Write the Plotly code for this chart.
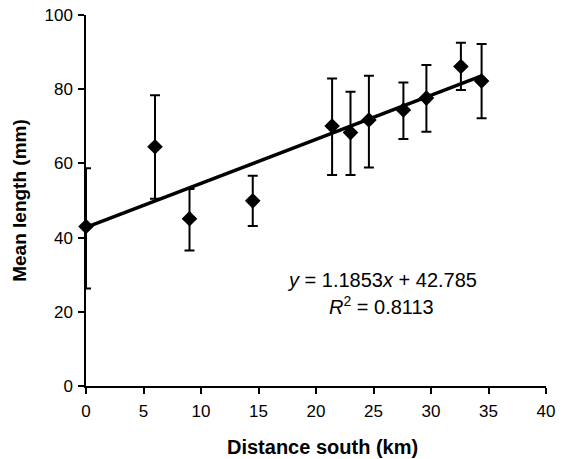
import plotly.graph_objects as go

distance = [0, 6.0, 9.0, 14.5, 21.4, 23.0, 24.6, 27.6, 29.6, 32.6, 34.4]
mean_len = [43.0, 64.5, 45.1, 49.9, 70.1, 68.3, 71.7, 74.4, 77.6, 86.1, 82.2]
err_hi   = [58.7, 78.4, 53.1, 56.7, 82.9, 79.3, 83.6, 81.8, 86.5, 92.5, 92.2]
err_lo   = [26.3, 50.5, 36.5, 43.1, 56.9, 56.9, 58.9, 66.6, 68.5, 79.8, 72.2]
slope, intercept = 1.1853, 42.785
x_ticks = [0, 5, 10, 15, 20, 25, 30, 35, 40]
y_ticks = [0, 20, 40, 60, 80, 100]

FONT = "Liberation Sans, Arial, Helvetica"

fit_x = [min(distance), max(distance)]
fit_y = [slope * v + intercept for v in fit_x]

fig = go.Figure()
fig.add_trace(go.Scatter(
    x=fit_x, y=fit_y, mode="lines",
    line=dict(color="black", width=3.5), hoverinfo="skip", showlegend=False))
fig.add_trace(go.Scatter(
    x=distance, y=mean_len, mode="markers",
    marker=dict(symbol="diamond", size=12, color="black"),
    error_y=dict(type="data", symmetric=False,
                 array=[h - m for h, m in zip(err_hi, mean_len)],
                 arrayminus=[m - l for m, l in zip(mean_len, err_lo)],
                 color="black", thickness=2, width=5),
    showlegend=False, cliponaxis=False))

fig.add_annotation(x=25.7, y=28.5, xref="x", yref="y",
                   text="<i>y</i> = 1.1853<i>x</i> + 42.785",
                   showarrow=False, xanchor="center", yanchor="middle",
                   font=dict(size=20, color="black", family=FONT))
fig.add_annotation(x=25.7, y=21.8, xref="x", yref="y",
                   text="<i>R</i><sup>2</sup> = 0.8113",
                   showarrow=False, xanchor="center", yanchor="middle",
                   font=dict(size=20, color="black", family=FONT))

# axis titles
fig.add_annotation(x=0.515, y=-0.165, xref="paper", yref="paper",
                   text="<b>Distance south (km)</b>", showarrow=False,
                   xanchor="center", yanchor="middle",
                   font=dict(size=20, color="black", family=FONT))
fig.add_annotation(x=-0.145, y=0.5, xref="paper", yref="paper",
                   text="<b>Mean length (mm)</b>", showarrow=False, textangle=-90,
                   xanchor="center", yanchor="middle",
                   font=dict(size=19, color="black", family=FONT))

fig.update_layout(
    width=569, height=459,
    margin=dict(l=86, r=23, t=15, b=73, autoexpand=False),
    paper_bgcolor="white", plot_bgcolor="white",
    font=dict(family=FONT, size=17, color="black"),
)
fig.update_xaxes(
    range=[0, 40], tickvals=x_ticks, ticks="outside", ticklen=6, tickwidth=1.5,
    tickcolor="black", showline=True, linecolor="black", linewidth=1.5,
    showgrid=False, zeroline=False, tickfont=dict(size=17), automargin=False,
    ticklabeloverflow="allow", ticklabelstandoff=3)
fig.update_yaxes(
    range=[0, 100], tickvals=y_ticks, ticks="outside", ticklen=6, tickwidth=1.5,
    tickcolor="black", showline=True, linecolor="black", linewidth=1.5,
    showgrid=False, zeroline=False, tickfont=dict(size=17), automargin=False,
    ticklabeloverflow="allow", ticklabelstandoff=2)

# remove the browser's default 8px body margin so the figure fills the window
fig.write_html("out.html", config={"displayModeBar": False},
               post_script="document.body.style.margin='0px';")
